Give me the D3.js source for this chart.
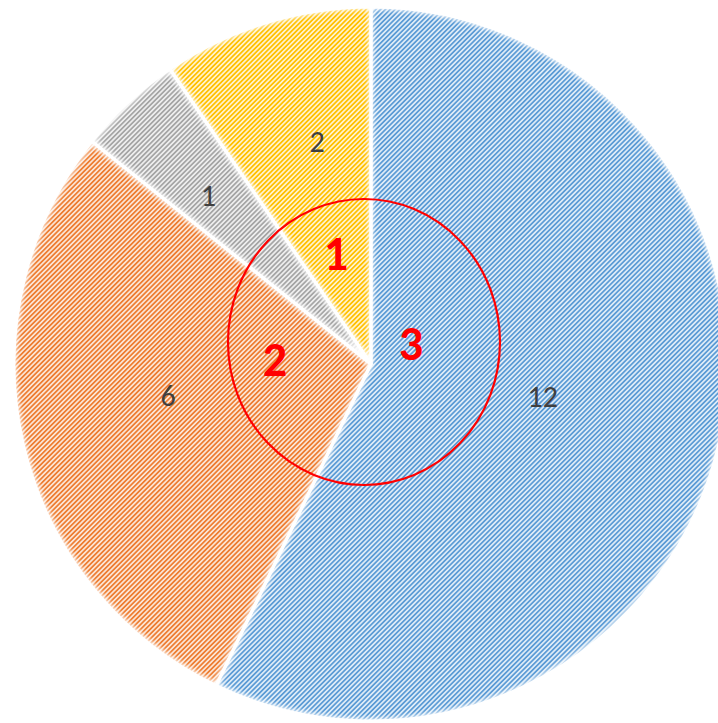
<!DOCTYPE html>
<html>
<head>
<meta charset="utf-8">
<script src="https://cdn.jsdelivr.net/npm/d3@7"></script>
<style>
  html, body { margin: 0; padding: 0; background: #fff; }
  svg { display: block; }
</style>
</head>
<body>
<div id="chart"></div>
<script>
// Slice data (clockwise from 12 o'clock)
const categories = ['A', 'B', 'C', 'D'];
const values = [12, 6, 1, 2];
const stripeColors = ['#5B9BD5', '#ED7D31', '#A5A5A5', '#FFC000'];
const backColors = ['#DDEBF7', '#FBE4D5', '#EDEDED', '#FFF2CC'];

// label placement: share of radius, angle shift from slice middle (degrees)
const labelRadius = [0.49, 0.575, 0.655, 0.64];
const labelShift = [-2, 4, -1.2, 3.5];

// Red annotations
const marks = ['1', '2', '3'];
const markPos = [[336, 254], [275, 360], [411, 344]];

const width = 718, height = 723;
const cx = 371, cy = 364, radius = 357;

const svg = d3.select('#chart')
    .append('svg')
    .attr('width', width)
    .attr('height', height);

const defs = svg.append('defs');

// Hatch patterns: upward diagonal dotted stripes
categories.forEach((c, i) => {
    const p = defs.append('pattern')
        .attr('id', 'hatch' + i)
        .attr('patternUnits', 'userSpaceOnUse')
        .attr('width', 3.4)
        .attr('height', 3.4)
        .attr('patternTransform', 'rotate(-45)');
    p.append('rect').attr('width', 3.4).attr('height', 3.4).attr('fill', backColors[i]);
    p.append('rect').attr('width', 3.4).attr('height', 1.8).attr('fill', stripeColors[i])
        .attr('shape-rendering', 'crispEdges');
});

// Soft edge effect
const f = defs.append('filter')
    .attr('id', 'soft')
    .attr('x', '-5%').attr('y', '-5%').attr('width', '110%').attr('height', '110%');
f.append('feMorphology').attr('in', 'SourceAlpha').attr('operator', 'erode').attr('radius', 2).attr('result', 'er');
f.append('feGaussianBlur').attr('in', 'er').attr('stdDeviation', 2.5).attr('result', 'bl');
f.append('feComposite').attr('in', 'SourceGraphic').attr('in2', 'bl').attr('operator', 'in');

const pie = d3.pie().sort(null).value(d => d);
const arc = d3.arc().innerRadius(0).outerRadius(radius);
const arcs = pie(values);

const g = svg.append('g').attr('transform', `translate(${cx},${cy})`);

g.selectAll('path.slice')
    .data(arcs)
    .enter()
    .append('path')
    .attr('class', 'slice')
    .attr('d', arc)
    .attr('fill', (d, i) => `url(#hatch${i})`)
    .attr('filter', 'url(#soft)');

// white separators
g.selectAll('path.sep')
    .data(arcs)
    .enter()
    .append('path')
    .attr('class', 'sep')
    .attr('d', arc)
    .attr('fill', 'none')
    .attr('stroke', '#fff')
    .attr('stroke-width', 3)
    .attr('stroke-linejoin', 'round');

// data labels
g.selectAll('text.val')
    .data(arcs)
    .enter()
    .append('text')
    .attr('class', 'val')
    .attr('transform', (d, i) => {
        const r = radius * labelRadius[i];
        const m = (d.startAngle + d.endAngle) / 2 + labelShift[i] * Math.PI / 180;
        return `translate(${r * Math.sin(m)},${-r * Math.cos(m)})`;
    })
    .attr('text-anchor', 'middle')
    .attr('dy', '0.33em')
    .style('font-family', 'Calibri, Carlito, "Liberation Sans", sans-serif')
    .style('font-size', '30px')
    .style('fill', '#404040')
    .text(d => d.data);

// red ellipse
svg.append('ellipse')
    .attr('cx', 364)
    .attr('cy', 342)
    .attr('rx', 136)
    .attr('ry', 143)
    .attr('fill', 'none')
    .attr('stroke', '#FF0000')
    .attr('stroke-width', 2.2);

svg.selectAll('text.mark')
    .data(marks)
    .enter()
    .append('text')
    .attr('class', 'mark')
    .attr('x', (d, i) => markPos[i][0])
    .attr('y', (d, i) => markPos[i][1])
    .attr('text-anchor', 'middle')
    .attr('dy', '0.33em')
    .style('font-family', 'Calibri, Carlito, "Liberation Sans", sans-serif')
    .style('font-weight', 'bold')
    .style('font-size', '48px')
    .style('fill', '#FF0000')
    .text(d => d);
</script>
</body>
</html>
